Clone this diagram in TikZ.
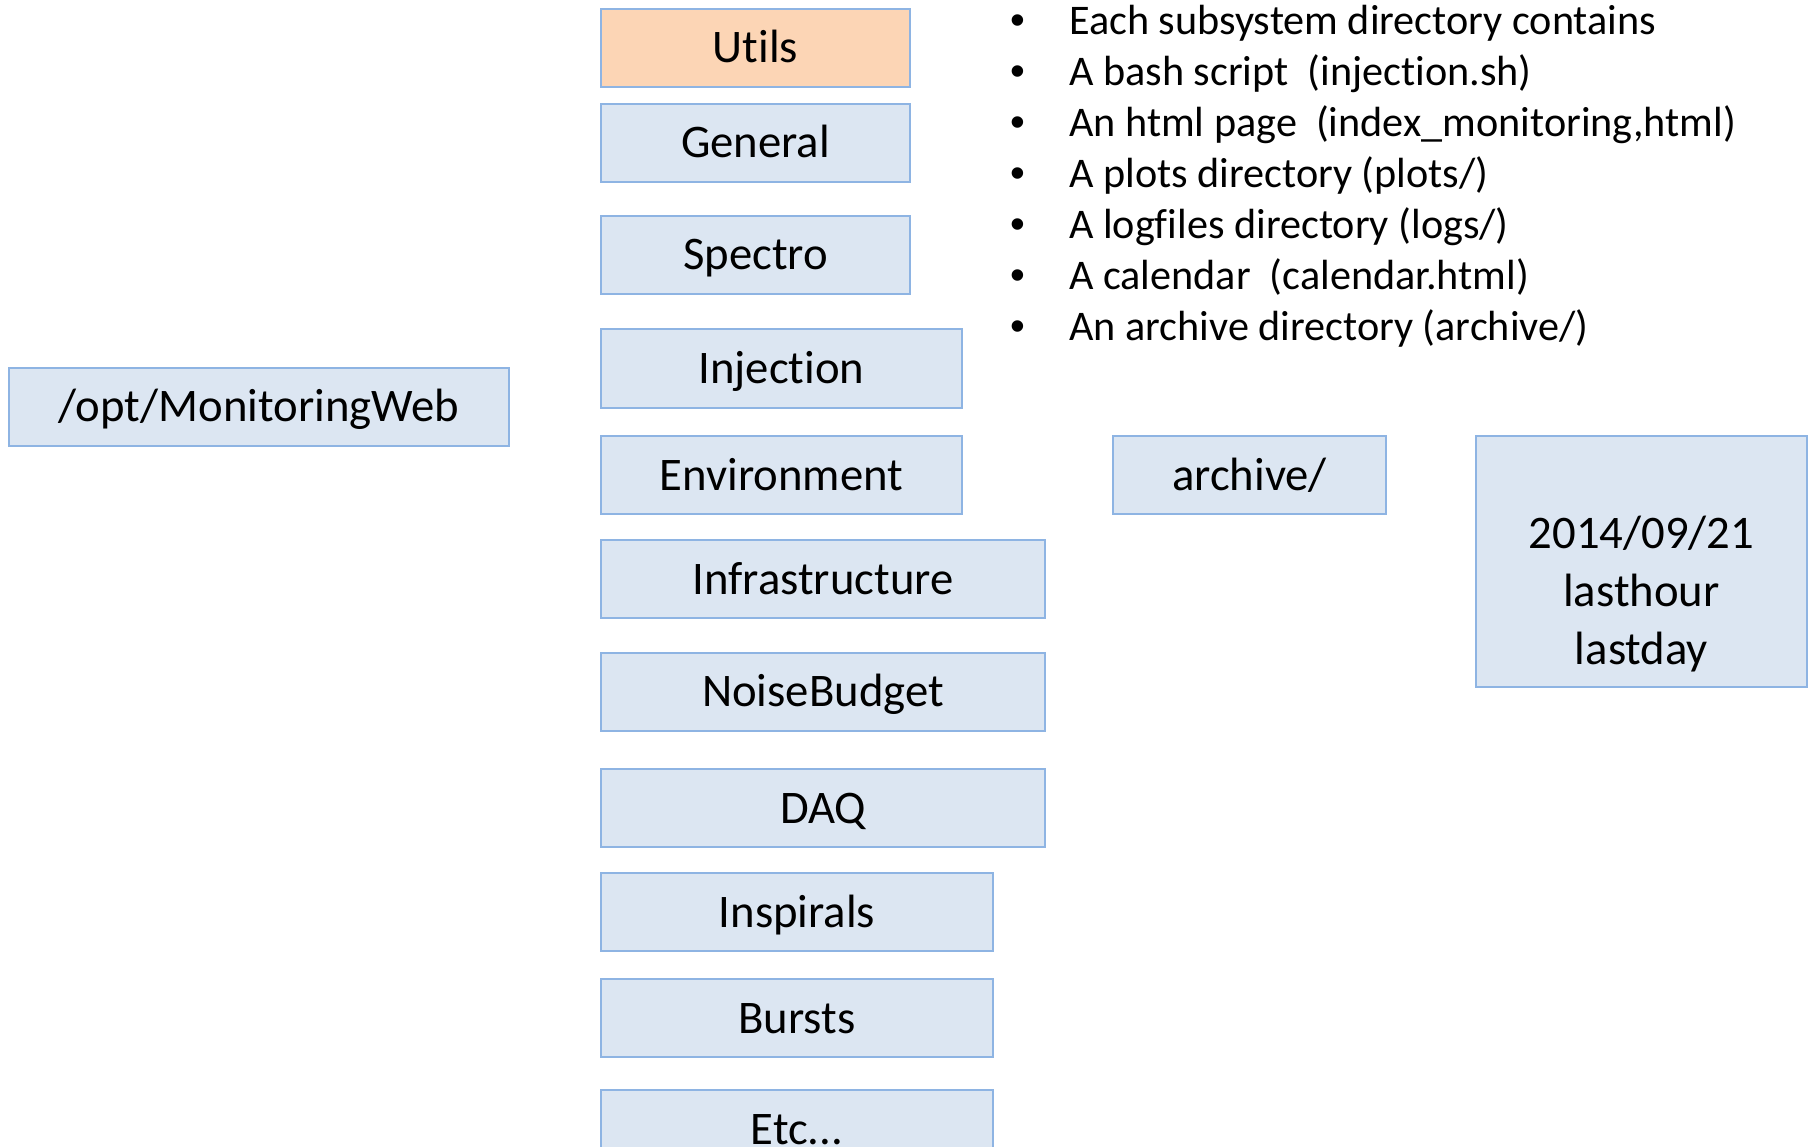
\documentclass[tikz,border=0pt]{standalone}
\usepackage{fontspec}
\setmainfont{Carlito}[Ligatures={NoCommon,NoRequired,NoContextual}]
\newfontfamily\bulletfont{Liberation Sans}
\usetikzlibrary{positioning}

\definecolor{boxfill}{RGB}{220,230,242}
\definecolor{boxline}{RGB}{142,180,227}
\definecolor{utilfill}{RGB}{252,213,181}

% break a ligature
\newcommand{\nl}{\kern0pt{}}

\tikzset{
  dirbox/.style={draw=boxline,fill=boxfill,line width=2pt,inner sep=0pt,
    minimum height=78pt,font=\fontsize{46.7}{58}\selectfont,
    text height=30pt,text depth=0pt},
  subdir/.style={dirbox,anchor=west},
  itemtext/.style={anchor=base west,inner sep=0pt,font=\fontsize{42.2}{51}\selectfont},
  itemdot/.style={anchor=base,inner sep=0pt,font=\bulletfont\fontsize{42.2}{51}\selectfont}
}

\begin{document}
\begin{tikzpicture}[x=1pt,y=-1pt]
\clip (0,0) rectangle (1814,1147);

% top directory
\node[dirbox,minimum width=500pt] (root) at (259,406.5) {/opt/MonitoringWeb};

% subsystem directories
\node[subdir,fill=utilfill,minimum width=309pt] (utils) at (600,48) {Ut\nl ils};
\node[subdir,minimum width=309pt] (general) at (600,143) {General};
\node[subdir,minimum width=309pt] (spectro) at (600,255) {Spectro};
\node[subdir,minimum width=361pt] (injection) at (600,368.5) {Inject\nl ion};
\node[subdir,minimum width=361pt] (environment) at (600,475) {Environment};
\node[subdir,minimum width=444pt] (infra) at (600,579) {Infrastructure};
\node[subdir,minimum width=444pt] (noise) at (600,691.5) {NoiseBudget};
\node[subdir,minimum width=444pt] (daq) at (600,808) {DAQ};
\node[subdir,minimum width=392pt] (inspirals) at (600,912) {Inspirals};
\node[subdir,minimum width=392pt] (bursts) at (600,1018) {Bursts};
\node[subdir,minimum width=392pt] (etc) at (600,1129) {Etc...};

% archive
\node[dirbox,minimum width=273pt] (archive) at (1249.5,475) {archive/};
\node[dirbox,minimum width=331pt,minimum height=251pt] (cal) at (1641.5,561.5) {};
\node[align=center,inner sep=0pt,font=\fontsize{46.7}{58}\selectfont] (caltext) at (1641.5,594) {2014/09/21\\lasthour\\lastday};

% contents list
\node[itemdot] (d1) at (1018,35) {•};
\node[itemtext] (t1) at (1069,35) {Each subsystem directory contains};
\node[itemdot] (d2) at (1018,86) {•};
\node[itemtext] (t2) at (1069,86) {A bash script\ \ (inject\nl ion.sh)};
\node[itemdot] (d3) at (1018,137) {•};
\node[itemtext] (t3) at (1069,137) {An html page\ \ (index\_monitoring,html)};
\node[itemdot] (d4) at (1018,188) {•};
\node[itemtext] (t4) at (1069,188) {A plots directory (plots/)};
\node[itemdot] (d5) at (1018,239) {•};
\node[itemtext] (t5) at (1069,239) {A logf\nl iles directory (logs/)};
\node[itemdot] (d6) at (1018,290) {•};
\node[itemtext] (t6) at (1069,290) {A calendar\ \ (calendar.html)};
\node[itemdot] (d7) at (1018,341) {•};
\node[itemtext] (t7) at (1069,341) {An archive directory (archive/)};
\end{tikzpicture}
\end{document}
